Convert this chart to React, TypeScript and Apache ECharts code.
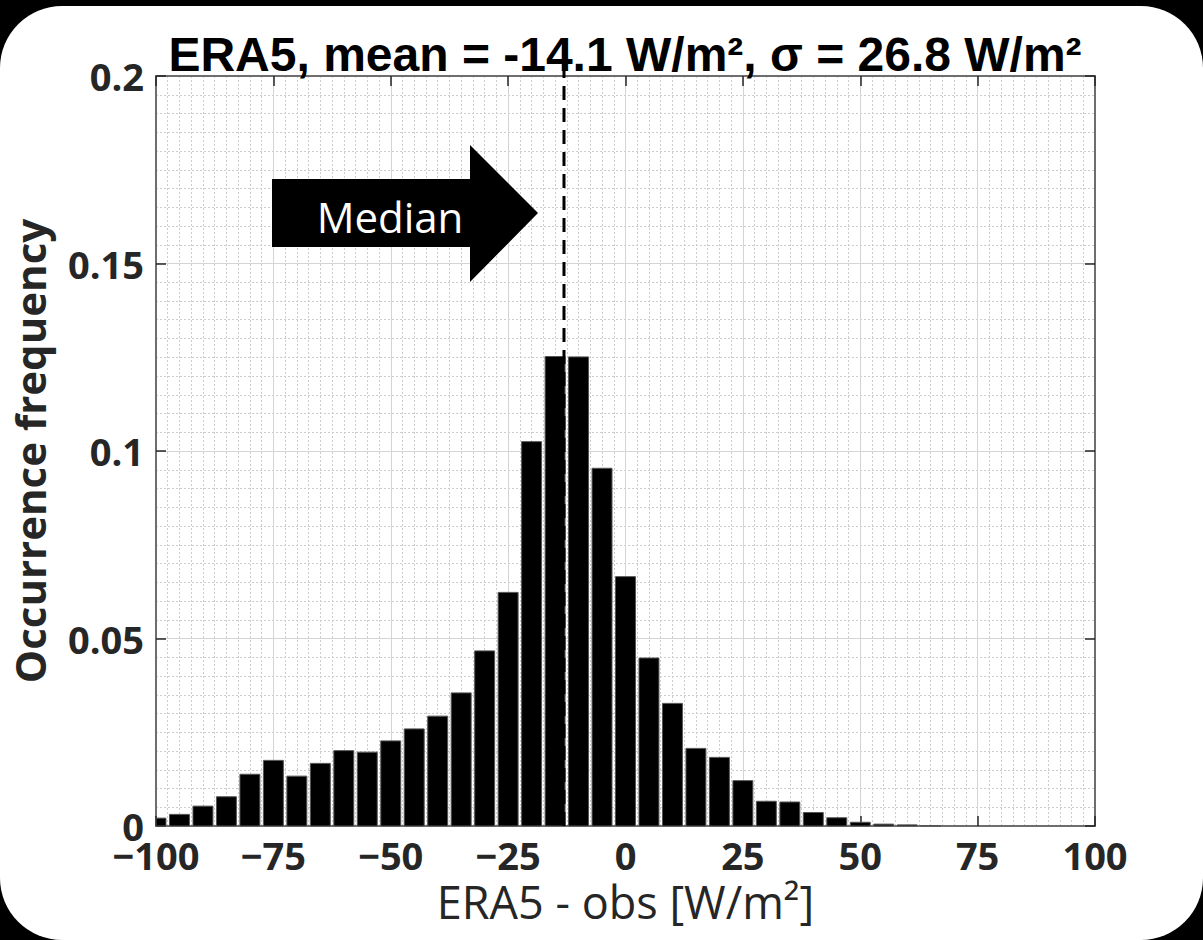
import React, { useEffect, useRef } from "react";
import * as echarts from "echarts";

const binCenters = [
  -100, -95, -90, -85, -80, -75, -70, -65, -60, -55, -50, -45, -40, -35, -30, -25, -20, -15, -10, -5,
  0, 5, 10, 15, 20, 25, 30, 35, 40, 45, 50, 55, 60, 65, 70, 75, 80, 85, 90, 95, 100,
];
const frequencies = [
  0.0021, 0.0031, 0.0053, 0.0078, 0.0138, 0.0175, 0.0133, 0.0167, 0.0201, 0.0197, 0.0227, 0.0259,
  0.0293, 0.0355, 0.0467, 0.0623, 0.1025, 0.1252, 0.1251, 0.0954, 0.0665, 0.0448, 0.0327, 0.0207,
  0.0183, 0.0121, 0.0066, 0.0064, 0.0036, 0.0022, 0.001, 0.0005, 0.0003, 0.0001, 0, 0, 0, 0, 0, 0, 0,
];
const binWidth = 5;
const medianValue = -13.1;
const medianLineTop = 0.208;
const titleText = "ERA5, mean = -14.1 W/m², σ = 26.8 W/m²";
const xAxisName = "ERA5 - obs [W/m²]";
const yAxisName = "Occurrence frequency";
const arrowLabel = "Median";

export default function App() {
  const ref = useRef<HTMLDivElement>(null);
  useEffect(() => {
    if (!ref.current) return;
    const chart = echarts.init(ref.current, undefined, { renderer: "svg" });
    const tickFont = {
      fontFamily: "Open Sans",
      fontWeight: "bold" as const,
      fontSize: 38,
      color: "#262626",
    };
    const axisCommon = {
      type: "value" as const,
      axisLine: { show: true, onZero: false, lineStyle: { color: "#6e6e6e", width: 2 } },
      axisTick: { show: true, inside: true, length: 10, lineStyle: { color: "#262626", width: 1.5 } },
      minorTick: { show: false, splitNumber: 10 },
    };
    const minorGrid = {
      show: true,
      lineStyle: { color: "#cdcdcd", width: 1, type: [2, 2] },
    };
    const option: any = {
      animation: false,
      backgroundColor: "#000000",
      title: {
        text: titleText,
        left: 620,
        top: 25,
        textAlign: "center",
        textStyle: { fontFamily: "Liberation Sans", fontWeight: "bold", fontSize: 48, color: "#000" },
      },
      grid: { left: 152, right: 108, top: 76, bottom: 114, containLabel: false },
      xAxis: [
        {
          ...axisCommon,
          position: "bottom",
          min: -100,
          max: 100,
          interval: 25,
          name: xAxisName,
          nameLocation: "middle",
          nameGap: 52,
          nameTextStyle: { fontFamily: "Open Sans", fontSize: 45, lineHeight: 46, color: "#262626" },
          axisLabel: {
            ...tickFont,
            margin: 14,
            lineHeight: 30,
            formatter: (v: number) => String(v).replace("-", "−"),
          },
          splitLine: { show: true, lineStyle: { color: "#d4d4d4", width: 1 } },
          minorTick: { show: true, splitNumber: 10, length: 0, lineStyle: { opacity: 0 } },
          minorSplitLine: minorGrid,
        },
        {
          ...axisCommon,
          position: "top",
          min: -100,
          max: 100,
          interval: 25,
          axisLabel: { show: false },
          splitLine: { show: false },
        },
      ],
      yAxis: [
        {
          ...axisCommon,
          position: "left",
          min: 0,
          max: 0.2,
          interval: 0.05,
          name: yAxisName,
          nameLocation: "middle",
          nameGap: 106,
          nameRotate: 90,
          nameTextStyle: { fontFamily: "Open Sans", fontWeight: "bold", fontSize: 42, color: "#262626" },
          axisLabel: { ...tickFont, margin: 12, lineHeight: 26 },
          splitLine: { show: true, lineStyle: { color: "#d4d4d4", width: 1 } },
          minorTick: { show: true, splitNumber: 10, length: 0, lineStyle: { opacity: 0 } },
          minorSplitLine: minorGrid,
        },
        {
          ...axisCommon,
          position: "right",
          min: 0,
          max: 0.2,
          interval: 0.05,
          axisLabel: { show: false },
          splitLine: { show: false },
        },
      ],
      graphic: [
        {
          type: "rect",
          z: -100,
          silent: true,
          shape: { x: 0, y: 6, width: 1203, height: 934, r: 62 },
          style: { fill: "#ffffff" },
        },
        {
          type: "polygon",
          z: 100,
          shape: {
            points: [
              [272, 179],
              [470, 179],
              [470, 145],
              [538, 213],
              [470, 282],
              [470, 247],
              [272, 247],
            ],
          },
          style: { fill: "#000000" },
        },
        {
          type: "text",
          z: 101,
          x: 390,
          y: 216,
          style: {
            text: arrowLabel,
            fill: "#ffffff",
            font: "42px 'Open Sans'",
            textAlign: "center",
            textVerticalAlign: "middle",
            align: "center",
            verticalAlign: "middle",
          },
        },
      ],
      series: [
        {
          type: "custom",
          xAxisIndex: 0,
          yAxisIndex: 0,
          encode: { x: 0, y: 1 },
          data: binCenters.map((x, i) => [x, frequencies[i]]),
          z: 3,
          renderItem: (params: any, api: any) => {
            const x = api.value(0);
            const y = api.value(1);
            if (!y) return null;
            const top = api.coord([x, y]);
            const base = api.coord([x, 0]);
            const w = api.size([binWidth, 0])[0] * 0.85;
            const cs = params.coordSys;
            const shape = echarts.graphic.clipRectByRect(
              { x: top[0] - w / 2, y: top[1], width: w, height: base[1] - top[1] },
              { x: cs.x, y: cs.y, width: cs.width, height: cs.height }
            );
            if (!shape) return null;
            return {
              type: "rect",
              shape,
              style: { fill: "#000000", stroke: "#555555", lineWidth: 1 },
            };
          },
        },
        {
          type: "line",
          xAxisIndex: 0,
          yAxisIndex: 0,
          clip: false,
          symbol: "none",
          data: [
            [medianValue, 0],
            [medianValue, medianLineTop],
          ],
          lineStyle: { color: "#000000", width: 3, type: [14, 8] },
          z: 5,
        },
      ],
    };
    chart.setOption(option);
    return () => chart.dispose();
  }, []);
  return (
    <div
      ref={ref}
      style={{ position: "fixed", left: 0, top: 0, width: 1203, height: 940, background: "#000" }}
    />
  );
}
